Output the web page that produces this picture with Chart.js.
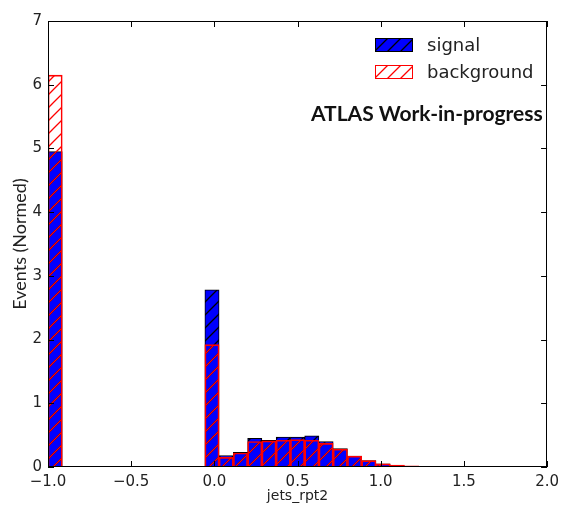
<!DOCTYPE html>
<html>
<head>
<meta charset="utf-8">
<script src="https://cdn.jsdelivr.net/npm/chart.js@4.4.1/dist/chart.umd.min.js"></script>
<style>
  body { margin: 0; background: #fff; }
  #wrap { position: relative; width: 565px; height: 515px; }
  .sw { position: absolute; }
  .lbl { position: absolute; font-family: "DejaVu Sans"; font-size: 18px; color: #222; line-height: 1; white-space: nowrap; }
  #atlas { position: absolute; font-family: Lato; font-weight: bold; font-size: 21px; color: #111; white-space: nowrap; line-height: 1; }
</style>
</head>
<body>
<div id="wrap">
  <canvas id="chart"></canvas>
  <canvas class="sw" id="swSignal" width="38" height="14" style="left:375px;top:38px"></canvas>
  <div class="lbl" style="left:427px;top:36px">signal</div>
  <canvas class="sw" id="swBackground" width="38" height="14" style="left:375px;top:65px"></canvas>
  <div class="lbl" style="left:427px;top:63px">background</div>
  <div id="atlas" style="left:311px;top:102px">ATLAS Work-in-progress</div>
</div>
<script>
// histogram: 35 bins between -1 and 2
const binLow = -1.0;
const binHigh = 2.0;
const nBins = 35;

const signal = [4.95, 0, 0, 0, 0, 0, 0, 0, 0, 0, 0,
  2.78, 0.18, 0.23, 0.45, 0.42, 0.47, 0.47, 0.49, 0.40, 0.29,
  0.17, 0.10, 0.05, 0.02, 0.01, 0.005, 0.003, 0.001, 0, 0,
  0, 0, 0, 0];
const background = [6.15, 0, 0, 0, 0, 0, 0, 0, 0, 0, 0,
  1.92, 0.15, 0.22, 0.40, 0.41, 0.42, 0.43, 0.42, 0.37, 0.28,
  0.17, 0.10, 0.05, 0.03, 0.02, 0.01, 0.006, 0.003, 0, 0,
  0, 0, 0, 0];

const binWidth = (binHigh - binLow) / nBins;
const centers = signal.map((_, i) => binLow + (i + 0.5) * binWidth);

function hatch(base, lineColor) {
  const s = 13;
  const c = document.createElement('canvas');
  c.width = s; c.height = s;
  const g = c.getContext('2d');
  if (base) { g.fillStyle = base; g.fillRect(0, 0, s, s); }
  g.strokeStyle = lineColor;
  g.lineWidth = 1.3;
  g.beginPath();
  g.moveTo(0, s); g.lineTo(s, 0);
  g.moveTo(-2, 2); g.lineTo(2, -2);
  g.moveTo(s - 2, s + 2); g.lineTo(s + 2, s - 2);
  g.stroke();
  return g.createPattern(c, 'repeat');
}

const ctx = document.getElementById('chart');
const sigFill = hatch('#0000ff', '#000');
const bkgFill = hatch(null, '#ff0000');

function swatch(id, fill, edge) {
  const g = document.getElementById(id).getContext('2d');
  g.fillStyle = fill;
  g.fillRect(0, 0, 38, 14);
  g.strokeStyle = edge;
  g.lineWidth = 1;
  g.strokeRect(0.5, 0.5, 37, 13);
}
swatch('swSignal', sigFill, '#000');
swatch('swBackground', bkgFill, '#ff0000');

const frame = {
  id: 'frame',
  afterDatasetsDraw(chart) {
    const { ctx, chartArea: a, scales: { x, y } } = chart;
    ctx.save();
    ctx.strokeStyle = '#000';
    ctx.lineWidth = 1;
    ctx.beginPath();
    x.ticks.forEach(t => {
      const px = Math.round(x.getPixelForValue(t.value)) + 0.5;
      ctx.moveTo(px, a.bottom); ctx.lineTo(px, a.bottom - 6);
      ctx.moveTo(px, a.top); ctx.lineTo(px, a.top + 6);
    });
    y.ticks.forEach(t => {
      const py = Math.round(y.getPixelForValue(t.value)) + 0.5;
      ctx.moveTo(a.left, py); ctx.lineTo(a.left + 6, py);
      ctx.moveTo(a.right, py); ctx.lineTo(a.right - 6, py);
    });
    ctx.stroke();
    ctx.strokeRect(Math.round(a.left) + 0.5, Math.round(a.top) + 0.5, Math.round(a.width) - 1, Math.round(a.height) - 1);
    ctx.restore();
  }
};

const tickFont = { family: 'DejaVu Sans', size: 15 };

new Chart(ctx, {
  type: 'bar',
  data: {
    datasets: [
      {
        label: 'background',
        data: centers.map((x, i) => ({ x: x, y: background[i] })),
        backgroundColor: bkgFill,
        borderColor: '#ff0000',
        borderWidth: 1,
        order: 0,
      },
      {
        label: 'signal',
        data: centers.map((x, i) => ({ x: x, y: signal[i] })),
        backgroundColor: sigFill,
        borderColor: '#000',
        borderWidth: 1,
        order: 1,
      },
    ],
  },
  options: {
    responsive: true,
    maintainAspectRatio: false,
    animation: false,
    datasets: { bar: { grouped: false, barPercentage: 1, categoryPercentage: 1 } },
    layout: { padding: { top: 21, right: 12, left: 0, bottom: 0 } },
    plugins: { legend: { display: false }, tooltip: { enabled: false } },
    scales: {
      x: {
        type: 'linear',
        min: -1, max: 2,
        offset: false,
        grid: { display: false, drawTicks: false, tickLength: 0 },
        border: { display: false },
        afterFit: s => { s.height = 48; },
        ticks: {
          stepSize: 0.5,
          padding: 6,
          color: '#222',
          font: tickFont,
          maxRotation: 0,
          callback: v => v.toFixed(1).replace('-', '\u2212'),
        },
        title: { display: true, text: 'jets_rpt2', color: '#222', font: { family: 'DejaVu Sans', size: 14 }, padding: { top: 0, bottom: 10 } },
      },
      y: {
        min: 0, max: 7,
        grid: { display: false, drawTicks: false, tickLength: 0 },
        border: { display: false },
        afterFit: s => { s.width = 48; },
        ticks: { stepSize: 1, padding: 6, color: '#222', font: tickFont },
        title: { display: true, text: 'Events (Normed)', color: '#222', font: { family: 'Lato', size: 18 }, padding: { top: 9, bottom: 0 } },
      },
    },
  },
  plugins: [frame],
});
</script>
</body>
</html>
